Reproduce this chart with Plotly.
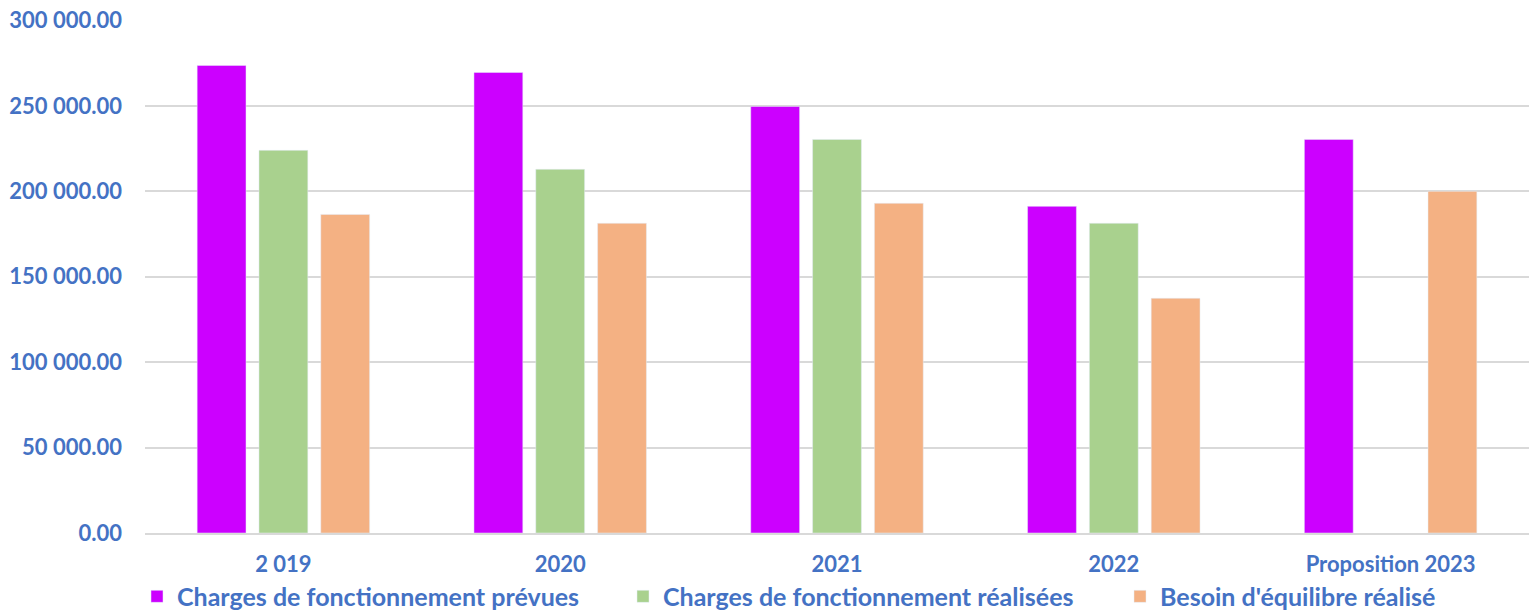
import plotly.graph_objects as go

categories = ["2 019", "2020", "2021", "2022", "Proposition 2023"]
charges_prevues = [273700, 269600, 249700, 191200, 230400]
charges_realisees = [224000, 212900, 230400, 181300, None]
besoin_equilibre = [186500, 181300, 193000, 137400, 200000]

BLUE = "#4472C4"
FONT = "Lato"
TXT = dict(family=FONT, size=22, color=BLUE, weight="bold")
LEG_TXT = dict(family=FONT, size=25, color=BLUE, weight="bold")

W, H = 1529, 611

fig = go.Figure()
fig.add_trace(go.Bar(x=categories, y=charges_prevues, name="Charges de fonctionnement prévues",
                     marker=dict(color="#CC00FF"), legend="legend", showlegend=True))
fig.add_trace(go.Bar(x=categories, y=charges_realisees, name="Charges de fonctionnement réalisées",
                     marker=dict(color="#A9D18E"), legend="legend2", showlegend=True))
fig.add_trace(go.Bar(x=categories, y=besoin_equilibre, name="Besoin d'équilibre réalisé",
                     marker=dict(color="#F4B183"), legend="legend3", showlegend=True))


def legend_at(px):
    # one legend per series so the three entries can sit where the original has them
    return dict(
        visible=True,
        orientation="h",
        xref="container",
        yref="container",
        x=px / W,
        xanchor="left",
        y=0.0612,
        yanchor="top",
        font=LEG_TXT,
        bgcolor="rgba(0,0,0,0)",
        itemwidth=30,
    )


fig.update_layout(
    width=W,
    height=H,
    showlegend=True,
    barmode="group",
    bargap=0.33,
    bargroupgap=0.21,
    separators=". ",
    paper_bgcolor="white",
    plot_bgcolor="white",
    font=dict(family=FONT, color=BLUE, size=22),
    margin=dict(l=145, r=0, t=20, b=78, autoexpand=False),
    xaxis=dict(
        showgrid=False,
        showline=True,
        linecolor="#d9d9d9",
        linewidth=1.5,
        ticks="",
        tickfont=TXT,
        ticklabelstandoff=11,
    ),
    yaxis=dict(
        range=[0, 300300],
        tickvals=[0, 50000, 100000, 150000, 200000, 250000, 300000],
        tickformat=",.2f",
        showgrid=True,
        gridcolor="#d9d9d9",
        gridwidth=1.5,
        zeroline=False,
        showline=False,
        tickfont=TXT,
        ticklabelstandoff=22,
        ticklabeloverflow="allow",
    ),
    legend=legend_at(137),
    legend2=legend_at(623),
    legend3=legend_at(1120),
)

# drop the browser's default 8px body margin so the figure fills the window exactly
fig.write_html(
    "out.html",
    config={"displayModeBar": False},
    post_script="document.body.style.margin='0';document.body.style.overflow='hidden';",
)
